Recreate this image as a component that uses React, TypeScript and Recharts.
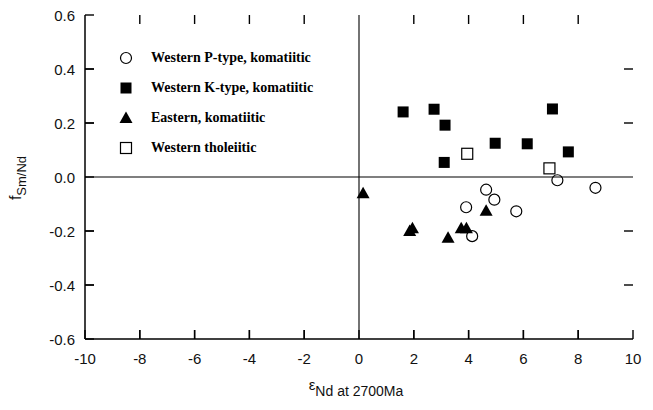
import React from 'react';
import { ScatterChart, Scatter, XAxis, YAxis, ReferenceLine, Legend, Label } from 'recharts';

// ---- data ----
const xTicks = [-10, -8, -6, -4, -2, 0, 2, 4, 6, 8, 10];
const yTicks = [-0.6, -0.4, -0.2, 0, 0.2, 0.4, 0.6];
const xInnerTicks = [-8, -6, -4, -2, 2, 4, 6, 8];
const yInnerTicks = [-0.4, -0.2, 0.2, 0.4];

const pTypeX = [4.64, 4.94, 3.91, 4.13, 5.74, 7.24, 8.63];
const pTypeY = [-0.047, -0.084, -0.112, -0.219, -0.127, -0.012, -0.04];

const kTypeX = [1.61, 2.74, 3.14, 7.06, 4.97, 6.14, 7.64, 3.11];
const kTypeY = [0.241, 0.251, 0.192, 0.252, 0.125, 0.123, 0.093, 0.054];

const easternX = [0.15, 1.85, 1.95, 3.25, 3.73, 3.92, 4.64];
const easternY = [-0.06, -0.2, -0.19, -0.225, -0.19, -0.19, -0.125];

const tholX = [3.95, 6.95];
const tholY = [0.086, 0.032];

const seriesNames = [
  'Western P-type, komatiitic',
  'Western K-type, komatiitic',
  'Eastern, komatiitic',
  'Western tholeiitic',
];

const X_DOMAIN: [number, number] = [-10, 10];
const Y_DOMAIN: [number, number] = [-0.6, 0.6];

const zip = (xs: number[], ys: number[]) => xs.map((x, i) => ({ x, y: ys[i] }));
const pTypeData = zip(pTypeX, pTypeY);
const kTypeData = zip(kTypeX, kTypeY);
const easternData = zip(easternX, easternY);
const tholData = zip(tholX, tholY);

// inward tick marks on all four frame sides, positioned through the chart scales
const tickMarkData = [
  ...xInnerTicks.map((t) => ({ x: t, y: Y_DOMAIN[0], dx: 0, dy: -1 })),
  ...xInnerTicks.map((t) => ({ x: t, y: Y_DOMAIN[1], dx: 0, dy: 1 })),
  ...yInnerTicks.map((t) => ({ x: X_DOMAIN[0], y: t, dx: 1, dy: 0 })),
  ...yInnerTicks.map((t) => ({ x: X_DOMAIN[1], y: t, dx: -1, dy: 0 })),
];

// ---- layout ----
const W = 653;
const H = 410;
const MARGIN = { top: 15, right: 20, bottom: 41, left: 0 };
const Y_AXIS_W = 85;
const X_AXIS_H = 30;
const TICK_PX = 9;

// ---- shapes ----
const OpenCircle = (p: any) => (
  <circle cx={p.cx} cy={p.cy} r={5.5} fill="none" stroke="#000" strokeWidth={1.2} />
);
const FilledSquare = (p: any) => (
  <rect x={p.cx - 5.5} y={p.cy - 5.5} width={11} height={11} fill="#000" />
);
const OpenSquare = (p: any) => (
  <rect x={p.cx - 5.5} y={p.cy - 5.5} width={11} height={11} fill="#fff" stroke="#000" strokeWidth={1.2} />
);
const FilledTriangle = (p: any) => (
  <polygon
    points={`${p.cx},${p.cy - 6.5} ${p.cx - 6.5},${p.cy + 5} ${p.cx + 6.5},${p.cy + 5}`}
    fill="#000"
  />
);
const TickMark = (p: any) => {
  const d = p.payload || {};
  return (
    <line
      x1={p.cx}
      y1={p.cy}
      x2={p.cx + (d.dx || 0) * TICK_PX}
      y2={p.cy + (d.dy || 0) * TICK_PX}
      stroke="#000"
      strokeWidth={1.4}
    />
  );
};

const SANS = '"Liberation Sans", Arial, sans-serif';
const SERIF = '"Liberation Serif", "Times New Roman", serif';

// axis tick lines are drawn inward (negative tickSize), so the text positions
// compensate for the tick length
const BottomTick = (props: any) => {
  const { x, y, payload } = props;
  return (
    <text x={x} y={y + TICK_PX + 25} textAnchor="middle" fontSize={15} fontFamily={SANS} fill="#111">
      {String(payload.value)}
    </text>
  );
};
const LeftTick = (props: any) => {
  const { x, y, payload } = props;
  return (
    <text x={x - TICK_PX - 10} y={y + 5.5} textAnchor="end" fontSize={15} fontFamily={SANS} fill="#111">
      {Number(payload.value).toFixed(1)}
    </text>
  );
};
const NoLabel = () => <g />;

// ---- legend ----
const markerFor = (i: number) => {
  if (i === 0) return <circle cx={8} cy={8} r={5.5} fill="none" stroke="#000" strokeWidth={1.2} />;
  if (i === 1) return <rect x={2.5} y={2.5} width={11} height={11} fill="#000" />;
  if (i === 2) return <polygon points="8,1.5 1.5,13 14.5,13" fill="#000" />;
  return <rect x={2.5} y={2.5} width={11} height={11} fill="#fff" stroke="#000" strokeWidth={1.2} />;
};
const renderLegend = () => (
  <div style={{ display: 'flex', flexDirection: 'column' }}>
    {seriesNames.map((n, i) => (
      <div key={n} style={{ display: 'flex', alignItems: 'center', height: 30 }}>
        <svg width={16} height={16} style={{ display: 'block' }}>
          {markerFor(i)}
        </svg>
        <span
          style={{
            marginLeft: 17,
            fontFamily: SERIF,
            fontWeight: 'bold',
            fontSize: 14,
            color: '#000',
            whiteSpace: 'nowrap',
          }}
        >
          {n}
        </span>
      </div>
    ))}
  </div>
);

const axisLineStyle = { stroke: '#000', strokeWidth: 1.5 };
const tickLineStyle = { stroke: '#000', strokeWidth: 1.4 };

export default function App() {
  return (
    <div style={{ position: 'absolute', left: 0, top: 0, width: W, height: H, background: '#fff' }}>
      <ScatterChart width={W} height={H} margin={MARGIN}>
        <XAxis
          dataKey="x"
          type="number"
          domain={X_DOMAIN}
          ticks={xTicks}
          interval={0}
          tickSize={-TICK_PX}
          tickMargin={0}
          tickLine={tickLineStyle}
          tick={BottomTick}
          height={X_AXIS_H}
          axisLine={axisLineStyle}
        >
          <Label
            content={() => (
              <text x={356} y={390} textAnchor="middle" fontFamily={SANS} fill="#111">
                <tspan fontSize={15}>ε</tspan>
                <tspan fontSize={14} dy={6}>Nd at 2700Ma</tspan>
              </text>
            )}
          />
        </XAxis>
        <XAxis
          xAxisId="top"
          orientation="top"
          type="number"
          domain={X_DOMAIN}
          ticks={xTicks}
          interval={0}
          tickSize={-TICK_PX}
          tickMargin={0}
          tickLine={tickLineStyle}
          tick={NoLabel}
          height={0}
          axisLine={axisLineStyle}
        />
        <YAxis
          dataKey="y"
          type="number"
          domain={Y_DOMAIN}
          ticks={yTicks}
          interval={0}
          tickSize={-TICK_PX}
          tickMargin={0}
          tickLine={tickLineStyle}
          tick={LeftTick}
          width={Y_AXIS_W}
          axisLine={axisLineStyle}
        >
          <Label
            content={() => (
              <text
                x={21}
                y={178}
                transform="rotate(-90 21 178)"
                textAnchor="middle"
                fontFamily={SANS}
                fill="#111"
              >
                <tspan fontSize={16}>f</tspan>
                <tspan fontSize={13} dy={5}>Sm/Nd</tspan>
              </text>
            )}
          />
        </YAxis>
        <YAxis
          yAxisId="right"
          orientation="right"
          type="number"
          domain={Y_DOMAIN}
          ticks={yTicks}
          interval={0}
          tickSize={-TICK_PX}
          tickMargin={0}
          tickLine={tickLineStyle}
          tick={NoLabel}
          width={0}
          axisLine={axisLineStyle}
        />
        <ReferenceLine x={0} stroke="#000" strokeWidth={1.1} />
        <ReferenceLine y={0} stroke="#000" strokeWidth={1.1} />
        <Legend
          layout="vertical"
          align="center"
          verticalAlign="middle"
          content={renderLegend}
          wrapperStyle={{ top: 43, left: 118, width: 260 }}
        />
        <Scatter name={seriesNames[2]} data={easternData} shape={FilledTriangle} isAnimationActive={false} />
        <Scatter name={seriesNames[1]} data={kTypeData} shape={FilledSquare} isAnimationActive={false} />
        <Scatter name={seriesNames[3]} data={tholData} shape={OpenSquare} isAnimationActive={false} />
        <Scatter name={seriesNames[0]} data={pTypeData} shape={OpenCircle} isAnimationActive={false} />
        <Scatter name="ticks" data={tickMarkData} shape={TickMark} isAnimationActive={false} legendType="none" />
      </ScatterChart>
    </div>
  );
}
